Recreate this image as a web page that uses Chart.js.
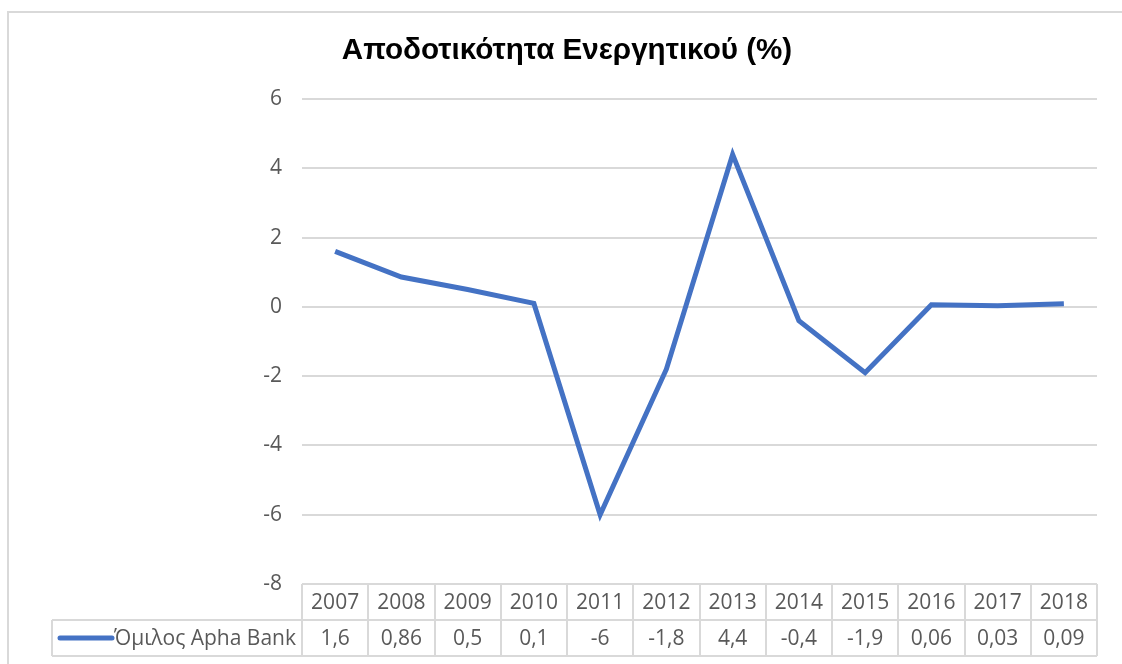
<!DOCTYPE html>
<html>
<head>
<meta charset="utf-8">
<script src="https://cdn.jsdelivr.net/npm/chart.js@4"></script>
<style>
    html, body { margin: 0; padding: 0; background: #fff; }
    #wrap { width: 1122px; height: 664px; position: relative; }
</style>
</head>
<body>
<div id="wrap"><canvas id="roaChart" width="1122" height="664"></canvas></div>
<script>
const years = ['2007', '2008', '2009', '2010', '2011', '2012', '2013', '2014', '2015', '2016', '2017', '2018'];
const roa = [1.6, 0.86, 0.5, 0.1, -6, -1.8, 4.4, -0.4, -1.9, 0.06, 0.03, 0.09];
const yTicks = [6, 4, 2, 0, -2, -4, -6, -8];
const seriesName = 'Όμιλος Apha Bank';
const chartTitle = 'Αποδοτικότητα Ενεργητικού (%)';

const gridColor = '#d9d9d9';
const textColor = '#595959';
const lineColor = '#4472c4';
const bodyFont = '21px "Open Sans", "Noto Sans", sans-serif';

function fmt(v) {
    return String(v).replace('.', ',');
}

// title, outer frame and the data table below the plot
const tablePlugin = {
    id: 'dataTable',
    afterDraw(chart) {
        const c = chart.ctx;
        const area = chart.chartArea;
        const x = chart.scales.x;
        const colW = (area.right - area.left) / years.length;
        const rowH = 36;
        const top = area.bottom;

        c.save();

        // outer frame
        c.strokeStyle = gridColor;
        c.lineWidth = 2;
        c.beginPath();
        c.moveTo(8, 664);
        c.lineTo(8, 12);
        c.lineTo(1122, 12);
        c.stroke();

        // title
        c.fillStyle = '#000';
        c.font = 'bold 29.6px "Liberation Sans", Arial, sans-serif';
        c.textAlign = 'center';
        c.textBaseline = 'middle';
        c.fillText(chartTitle, 567, 51);

        // table grid
        c.lineWidth = 2;
        c.strokeStyle = gridColor;
        const legendLeft = 52;
        c.beginPath();
        c.moveTo(area.left, top);
        c.lineTo(area.right, top);
        c.moveTo(legendLeft, top + rowH);
        c.lineTo(area.right, top + rowH);
        c.moveTo(legendLeft, top + rowH * 2);
        c.lineTo(area.right, top + rowH * 2);
        c.moveTo(legendLeft, top + rowH);
        c.lineTo(legendLeft, top + rowH * 2);
        for (let i = 0; i <= years.length; i++) {
            const gx = Math.round(area.left + i * colW);
            c.moveTo(gx, top);
            c.lineTo(gx, top + rowH * 2);
        }
        c.stroke();

        // header years and values
        c.fillStyle = textColor;
        c.font = bodyFont;
        c.textAlign = 'center';
        c.textBaseline = 'middle';
        years.forEach((yr, i) => {
            const cx = x.getPixelForValue(i);
            c.fillText(yr, cx, top + rowH / 2 + 1);
            c.fillText(fmt(roa[i]), cx, top + rowH * 1.5 + 1);
        });

        // legend key
        const ky = top + rowH * 1.5;
        c.strokeStyle = lineColor;
        c.lineWidth = 5;
        c.lineCap = 'round';
        c.beginPath();
        c.moveTo(60, ky);
        c.lineTo(112, ky);
        c.stroke();
        c.textAlign = 'right';
        c.fillText(seriesName, 296, ky + 1);

        c.restore();
    }
};

new Chart(document.getElementById('roaChart'), {
    type: 'line',
    data: {
        labels: years,
        datasets: [{
            label: seriesName,
            data: roa,
            borderColor: lineColor,
            borderWidth: 5,
            pointRadius: 0,
            tension: 0,
            fill: false
        }]
    },
    options: {
        responsive: false,
        animation: false,
        layout: { padding: { left: 0, right: 25, top: 99, bottom: 80 } },
        plugins: {
            legend: { display: false },
            tooltip: { enabled: false }
        },
        scales: {
            x: {
                type: 'category',
                offset: true,
                display: false
            },
            y: {
                min: -8,
                max: 6,
                afterFit(scale) { scale.width = 302; },
                afterBuildTicks(scale) { scale.ticks = yTicks.map(v => ({ value: v })); },
                border: { display: false },
                grid: { color: gridColor, lineWidth: 2, drawTicks: false },
                ticks: {
                    color: textColor,
                    font: { family: '"Open Sans", "Noto Sans", sans-serif', size: 21 },
                    padding: 20
                }
            }
        }
    },
    plugins: [tablePlugin]
});
</script>
</body>
</html>
